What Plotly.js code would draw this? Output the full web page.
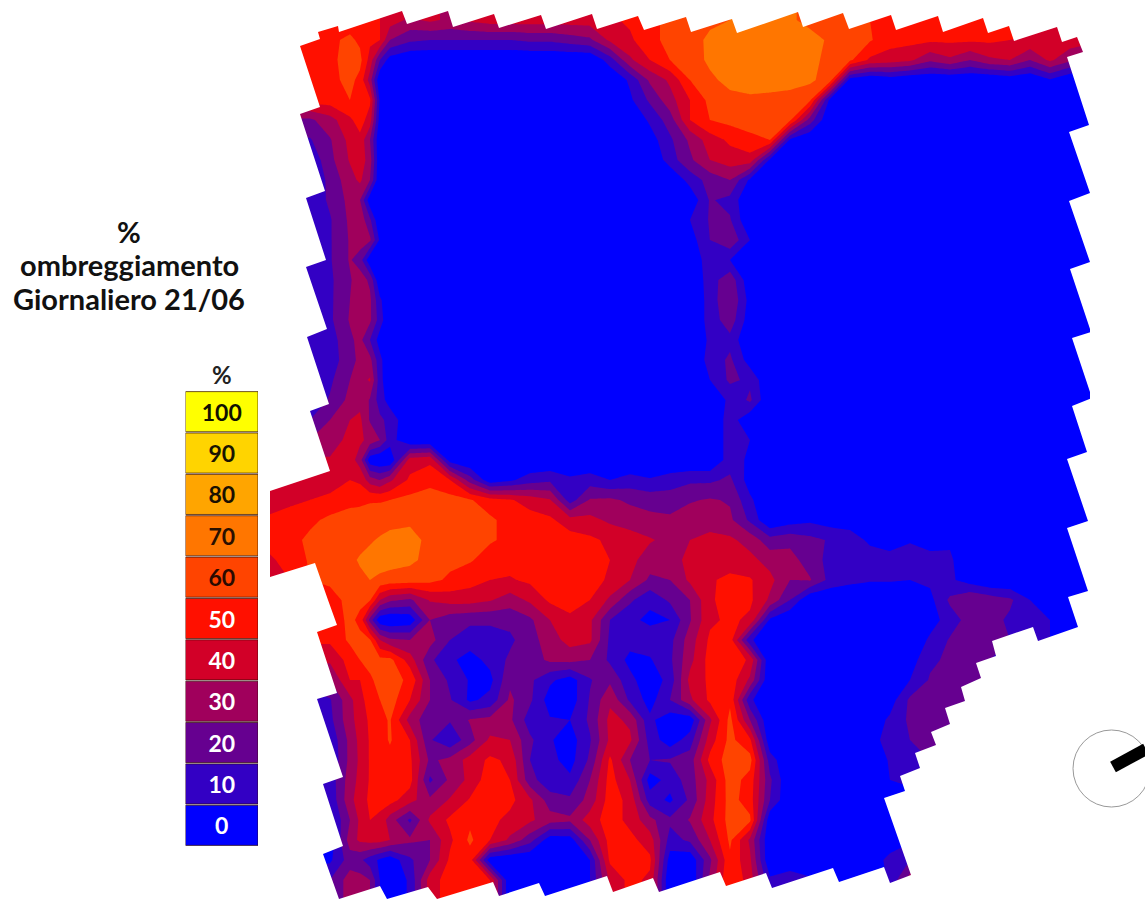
<!DOCTYPE html>
<html><head><meta charset="utf-8">
<script src="https://cdn.plot.ly/plotly-3.0.1.min.js"></script>
<style>html,body{margin:0;padding:0;background:#fff}#c{width:1145px;height:899px}</style>
</head><body><div id="c"></div>
<script>
const gridX=[270,290,310,330,350,360,370,380,390,410,430,450,470,490,510,530,550,570,590,610,630,650,670,690,710,730,750,770,790,810,830,850,870,890,910,930,950,970,990,1010,1030,1050,1070,1090];
const gridY=[0,20,40,60,80,100,120,140,160,180,200,220,240,260,280,300,320,340,360,380,400,420,440,460,480,500,520,540,560,580,600,620,640,660,680,700,720,740,760,780,800,820,840,860,880,900];
const shade360=[55,55,58,63,57,58,55,47,46,42,30,37,35,25,35,35,36,33,32,37,37,42,42,35,48,58,64,67,71,68,62,58,62,60,50,47,44,43,42,43,45,42,42,22,34,34];
const shade380=[50,50,50,20,0,8,5,0,0,0,0,0,8,0,0,12,15,5,13,14,15,22,30,0,30,59,66,71,74,68,40,2,40,63,62,60,57,56,56,55,54,47,44,8,10,10];
const shadeRows=[
[55,55,55,55,55,52,45,38,42,38,42,45,45,45,45,45,45,48,52,58,62,65,68,70,72,74,72,66,65,62,60,55,55,55,55,55,55,55,55,52,50,45],
[55,55,55,55,55,52,45,38,42,38,42,45,45,45,45,45,45,48,52,58,62,65,68,70,72,74,72,66,65,62,60,55,55,55,55,55,55,55,55,52,50,45],
[55,55,55,58,62,52,30,22,20,20,20,20,20,22,22,25,28,42,48,58,62,66,72,74,75,76,76,75,68,65,61,54,53,52,52,52,52,50,48,47,46,45],
[55,55,55,57,65,46,5,0,0,0,0,0,0,0,0,0,0,15,38,50,60,65,72,75,75,75,75,73,67,62,48,45,42,32,38,30,38,40,30,42,32,20],
[55,55,55,57,63,35,0,0,0,0,0,0,0,0,0,0,0,0,12,32,42,60,68,73,75,75,74,72,65,5,0,4,0,0,0,0,0,3,0,9,0,0],
[55,55,55,55,60,52,0,0,0,0,0,0,0,0,0,0,0,0,8,22,36,50,63,67,68,67,66,62,7,0,0,0,0,0,0,0,0,0,0,0,0,0],
[28,28,28,36,48,45,0,0,0,0,0,0,0,0,0,0,0,0,0,12,25,50,60,63,65,65,62,25,0,0,0,0,0,0,0,0,0,0,0,0,0,0],
[19,19,19,29,43,30,0,0,0,0,0,0,0,0,0,0,0,0,0,5,18,32,45,52,57,60,8,0,0,0,0,0,0,0,0,0,0,0,0,0,0,0],
[12,12,12,27,41,35,0,0,0,0,0,0,0,0,0,0,0,0,0,0,15,28,40,45,46,8,0,0,0,0,0,0,0,0,0,0,0,0,0,0,0,0],
[10,10,10,23,36,30,0,0,0,0,0,0,0,0,0,0,0,0,0,0,0,14,24,30,8,0,0,0,0,0,0,0,0,0,0,0,0,0,0,0,0,0],
[12,12,12,22,33,3,0,0,0,0,0,0,0,0,0,0,0,0,0,0,0,2,21,17,0,0,0,0,0,0,0,0,0,0,0,0,0,0,0,0,0,0],
[12,12,12,19,32,22,0,0,0,0,0,0,0,0,0,0,0,0,0,0,0,10,21,21,0,0,0,0,0,0,0,0,0,0,0,0,0,0,0,0,0,0],
[12,12,12,19,31,32,0,0,0,0,0,0,0,0,0,0,0,0,0,0,0,5,20,28,10,0,0,0,0,0,0,0,0,0,0,0,0,0,0,0,0,0],
[12,12,12,19,31,2,0,0,0,0,0,0,0,0,0,0,0,0,0,0,0,0,17,10,0,0,0,0,0,0,0,0,0,0,0,0,0,0,0,0,0,0],
[12,12,12,18,29,28,0,0,0,0,0,0,0,0,0,0,0,0,0,0,0,0,15,27,2,0,0,0,0,0,0,0,0,0,0,0,0,0,0,0,0,0],
[12,12,12,18,30,32,0,0,0,0,0,0,0,0,0,0,0,0,0,0,0,0,14,30,6,0,0,0,0,0,0,0,0,0,0,0,0,0,0,0,0,0],
[13,13,13,18,31,32,0,0,0,0,0,0,0,0,0,0,0,0,0,0,0,0,14,26,4,0,0,0,0,0,0,0,0,0,0,0,0,0,0,0,0,0],
[12,12,12,15,28,20,0,0,0,0,0,0,0,0,0,0,0,0,0,0,0,0,12,17,0,0,0,0,0,0,0,0,0,0,0,0,0,0,0,0,0,0],
[12,12,12,14,27,33,0,0,0,0,0,0,0,0,0,0,0,0,0,0,0,0,14,22,5,0,0,0,0,0,0,0,0,0,0,0,0,0,0,0,0,0],
[12,12,12,18,30,41,0,0,0,0,0,0,0,0,0,0,0,0,0,0,0,0,10,22,18,0,0,0,0,0,0,0,0,0,0,0,0,0,0,0,0,0],
[13,13,13,21,33,29,5,0,0,0,0,0,0,0,0,0,0,0,0,0,0,0,3,12,22,0,0,0,0,0,0,0,0,0,0,0,0,0,0,0,0,0],
[20,20,20,30,40,29,17,0,0,0,0,0,0,0,0,0,0,0,0,0,0,0,0,15,2,0,0,0,0,0,0,0,0,0,0,0,0,0,0,0,0,0],
[30,30,30,35,43,37,15,0,0,0,0,0,0,0,0,0,0,0,0,0,0,0,0,15,10,0,0,0,0,0,0,0,0,0,0,0,0,0,0,0,0,0],
[42,42,42,41,45,3,0,45,48,5,0,0,0,0,0,0,0,0,0,0,0,0,0,15,8,0,0,0,0,0,0,0,0,0,0,0,0,0,0,0,0,0],
[42,42,42,42,50,35,38,52,56,50,25,3,8,15,18,12,15,10,14,11,15,18,18,22,5,0,0,0,0,0,0,0,0,0,0,0,0,0,0,0,0,0],
[45,48,50,54,58,59,60,63,66,64,61,54,51,46,41,15,31,32,28,26,25,29,31,29,12,0,0,0,0,0,0,0,0,0,0,0,0,0,0,0,0,0],
[52,54,58,62,63,65,68,68,68,67,65,62,56,54,52,44,43,38,36,33,32,35,34,32,18,0,5,8,5,5,0,0,0,0,0,0,0,0,0,0,0,0],
[55,57,62,64,66,69,72,74,67,65,63,61,58,56,55,55,52,48,44,41,37,40,44,42,36,24,27,23,19,15,8,5,9,5,8,0,0,0,0,0,0,0],
[48,55,61,64,68,73,74,72,67,63,61,56,54,53,53,54,53,50,43,35,37,42,45,46,43,36,34,25,17,15,15,14,15,14,12,0,0,0,0,0,0,0],
[45,50,60,62,66,70,66,65,63,58,54,50,49,52,55,56,55,48,40,28,30,42,49,52,51,43,30,31,17,13,11,11,10,12,12,5,0,0,0,0,0,0],
[45,50,55,56,63,61,32,28,41,44,44,41,35,42,52,56,50,38,22,12,22,30,48,56,52,38,20,0,0,0,0,0,5,7,22,30,26,22,10,8,5,0],
[50,50,55,55,62,26,0,3,30,24,22,22,23,28,40,47,42,20,12,8,10,29,48,52,48,8,0,0,0,0,0,0,0,5,15,24,24,18,15,10,5,0],
[50,52,52,52,62,61,32,30,34,20,15,15,18,26,35,44,42,18,14,15,17,35,52,55,12,0,0,0,0,0,0,0,0,12,21,25,22,20,20,10,5,0],
[42,42,42,42,54,62,63,45,22,12,6,13,22,25,32,33,30,18,7,9,18,37,54,58,48,0,0,0,0,0,0,0,5,18,22,22,20,20,20,10,5,0],
[30,30,30,30,50,59,64,58,30,18,9,7,28,22,12,5,19,28,13,3,14,43,52,56,38,0,0,0,0,0,0,2,10,21,22,21,20,20,20,10,5,0],
[10,10,10,19,37,54,65,50,30,21,8,13,32,22,5,4,21,38,18,6,20,38,52,58,12,0,0,0,0,0,0,5,22,22,22,22,20,20,20,10,5,0],
[10,10,10,17,37,52,61,36,23,21,31,33,32,15,11,10,22,43,38,12,4,3,38,63,30,0,0,0,0,0,3,12,22,22,22,22,20,20,20,10,5,0],
[8,8,8,12,33,51,61,50,21,12,26,42,40,22,11,5,19,42,42,16,4,15,45,63,52,2,0,0,0,0,6,14,20,22,22,22,20,20,20,10,5,0],
[6,6,6,10,33,51,57,52,28,33,44,52,48,20,13,6,22,52,30,20,21,25,53,65,64,15,0,0,0,0,3,11,18,20,20,20,20,20,20,10,5,0],
[8,8,8,14,35,51,57,54,18,32,43,56,50,24,13,12,30,54,40,5,14,25,43,65,56,22,0,0,0,0,0,10,15,15,15,15,15,15,15,10,5,0],
[8,8,8,12,37,52,54,44,32,41,51,58,53,42,25,22,34,55,47,15,8,22,45,64,55,20,0,0,0,0,0,0,0,0,0,0,0,0,0,0,0,0],
[5,5,5,8,30,50,35,18,42,52,58,53,47,42,34,32,45,55,47,33,22,31,47,64,62,2,0,0,0,0,0,0,0,0,0,0,0,0,0,0,0,0],
[3,3,3,3,35,44,40,32,30,48,62,50,38,24,4,5,30,54,53,45,16,22,40,62,38,0,0,0,0,0,0,0,8,8,0,0,0,0,0,0,0,0],
[5,5,5,8,25,15,3,18,30,52,55,3,0,0,0,0,10,52,53,52,5,2,28,58,42,0,0,0,0,0,0,15,20,20,0,0,0,0,0,0,0,0],
[20,20,20,20,35,30,0,12,45,55,58,50,0,0,0,0,10,42,53,48,0,0,32,60,45,12,18,12,0,0,0,12,35,35,0,0,0,0,0,0,0,0],
[20,20,20,20,35,30,0,12,45,55,58,50,0,0,0,0,10,42,53,48,0,0,32,60,45,12,18,12,0,0,0,12,35,35,0,0,0,0,0,0,0,0]
];
const siteEdgeX=[300,320,318,338,339,402,407,448,453,494,499,541,546,592,597,638,644,686,691,732,737,798,803,843,849,891,896,938,943,983,988,1009,1014,1057,1062,1077,1083,1067,1089,1069,1090,1069,1090,1070,1091,1072,1092,1072,1087,1067,1088,1067,1088,1068,1078,1038,1033,992,996,976,981,961,965,945,950,931,936,915,920,900,905,884,911,890,884,839,833,772,766,726,720,659,653,613,607,545,539,499,493,437,428,387,380,339,323,343,323,343,317,337,317,337,328,315,270,270,330,310,329,307,327,306,326,306,325,300,320,300];
const siteEdgeY=[46,39,32,26,32,11,24,11,27,14,28,15,29,14,29,16,30,17,32,19,33,12,27,13,29,15,30,16,32,18,33,26,41,27,42,37,52,57,125,132,193,201,262,269,332,338,398,406,452,459,521,528,591,597,627,641,627,641,656,663,678,687,701,708,724,732,745,753,768,776,791,798,875,883,867,882,868,888,873,886,872,892,878,892,876,896,883,896,882,899,887,899,886,899,854,846,784,777,699,693,632,625,600,563,577,491,471,411,404,337,329,267,260,198,191,114,107,46];
const pageX=[0,0,1145,1145,0];
const pageY=[0,899,899,0,0];
const shadeLevels=["0","10","20","30","40","50","60","70","80","90","100"];
const shadeColors=["#0000ff","#3300c4","#660090","#a0005c","#d20028","#ff1000","#ff4400","#ff7600","#ffa500","#ffd400","#ffff00"];
const swatchInk=["#ffffff","#ffffff","#ffffff","#ffffff","#ffffff","#ffffff","#2a0a00","#2a1000","#1a1000","#1a1400","#111100"];
const swatchSpan=shadeLevels.map(()=>1);
const titleLines=["%","ombreggiamento","Giornaliero 21/06"];

const fullRows=shadeRows.map((r,j)=>{const o=r.slice();o.splice(5,0,shade360[j]);o.splice(7,0,shade380[j]);return o;});
const stops=shadeColors.map((c,i)=>[i/(shadeColors.length-1),c]);
const FONT="Lato, 'Open Sans', sans-serif";
const traces=[
 {type:"contour",x:gridX,y:gridY,z:fullRows,colorscale:stops,showscale:false,hoverinfo:"skip",
  autocontour:false,contours:{start:10,end:100,size:10,coloring:"fill",showlines:false},line:{width:0,smoothing:0}},
 {type:"scatter",mode:"none",x:pageX.concat(siteEdgeX,[0]),y:pageY.concat(siteEdgeY,[0]),fill:"toself",fillcolor:"#ffffff",hoverinfo:"skip",showlegend:false},
 {type:"bar",orientation:"h",xaxis:"x2",yaxis:"y2",x:swatchSpan,y:shadeLevels,width:0.97,text:shadeLevels,
  textposition:"inside",insidetextanchor:"middle",textangle:0,
  textfont:{family:FONT,size:23,color:swatchInk,weight:700},
  marker:{color:shadeColors,line:{color:"rgba(50,10,0,0.7)",width:1}},hoverinfo:"skip",showlegend:false}
];
const layout={
 width:1145,height:899,margin:{l:0,r:0,t:0,b:0},paper_bgcolor:"#fff",plot_bgcolor:"#fff",showlegend:false,
 xaxis:{range:[0,1145],visible:false,domain:[0,1]},
 yaxis:{range:[899,0],visible:false,domain:[0,1]},
 xaxis2:{range:[0,1],visible:false,domain:[185.5/1145,258/1145],anchor:"y2"},
 yaxis2:{type:"category",categoryorder:"array",categoryarray:shadeLevels,range:[-0.5,10.5],visible:false,domain:[(899-846)/899,(899-391)/899],anchor:"x2"},
 annotations:[
  ...titleLines.map((t,i)=>({text:"<b>"+t+"</b>",xref:"x",yref:"y",x:129,y:[231,264,298][i],showarrow:false,xanchor:"center",yanchor:"middle",font:{family:FONT,size:29,color:"#111"}})),
  {text:"<b>%</b>",xref:"x",yref:"y",x:222,y:374,showarrow:false,xanchor:"center",yanchor:"middle",font:{family:FONT,size:24,color:"#222"}}
 ],
 shapes:[
  {type:"circle",xref:"x",yref:"y",x0:1073,x1:1150,y0:730,y1:807,line:{color:"#999",width:1}},
  {type:"line",xref:"x",yref:"y",x0:1113,y0:767,x1:1146,y1:749,line:{color:"#000",width:12}}
 ]
};
Plotly.newPlot("c",traces,layout,{displayModeBar:false,responsive:false});
</script></body></html>
